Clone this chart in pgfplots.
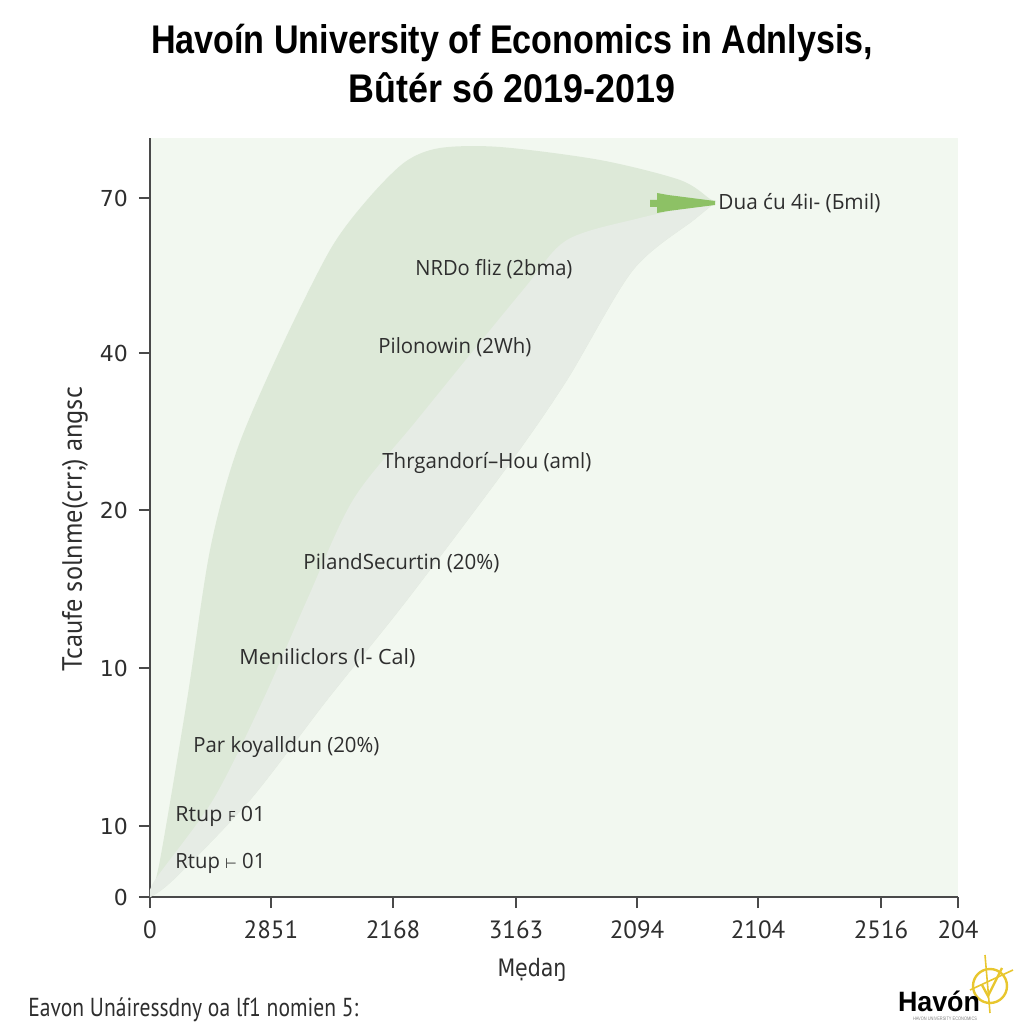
\documentclass[border=0pt]{standalone}
\usepackage{pgfplots}
\pgfplotsset{compat=1.18}
\usepackage{fontspec}
\usepackage{graphicx}
\setmainfont{Open Sans}
\newfontfamily\ptsans{PT Sans}
\newfontfamily\dejavu{DejaVu Sans}
\newfontfamily\libsans{Liberation Sans}
\definecolor{bgc}{HTML}{F2F8F0}
\definecolor{bandA}{HTML}{DDE9D8}
\definecolor{bandB}{HTML}{E6ECE5}
\definecolor{arrowc}{HTML}{8DC165}
\definecolor{axc}{HTML}{4A4A4A}
\definecolor{txt}{HTML}{2E2E2E}
\definecolor{logoy}{HTML}{E8C62E}
\newcommand\fitw[2]{\resizebox{#1}{\height}{#2}}
\begin{document}
\begin{tikzpicture}
\useasboundingbox (-75pt,-63.5pt) rectangle (437pt,448.5pt);
\begin{axis}[
  at={(0pt,0pt)}, anchor=south west,
  scale only axis, width=404pt, height=379.5pt,
  xmin=0, xmax=808, ymin=0, ymax=759,
  axis lines*=left,
  axis line style={axc, line width=0.9pt},
  axis background/.style={fill=bgc},
  tick align=outside, major tick length=5.5pt,
  tick style={axc, line width=0.8pt},
  xtick={0,121,243,366,487,608,731,808},
  xticklabels={0,2851,2168,3163,2094,2104,2516,204},
  ytick={0,71,229,387,544,699},
  yticklabels={0,10,10,20,40,70},
  xticklabel style={font=\ptsans\fontsize{12.5}{14}\selectfont, text=txt, yshift=-3pt},
  yticklabel style={font=\dejavu\fontsize{11}{13}\selectfont, text=txt, xshift=-2pt},
]
% outer (darker green) band
\addplot[fill=bandA, draw=none, smooth, tension=0.5] coordinates {
 (0,0) (10,37) (37,197) (60,347) (87,447) (130,547) (180,647) (217,697)
 (255,735) (290,749) (350,750) (450,737) (530,717) (560,698) (565,695)
 (545,678) (483,627) (417,517) (360,434) (257,297) (177,197) (100,97) (23,17) (0,0)};
% middle (lighter grey) band
\addplot[fill=bandB, draw=none, smooth, tension=0.5] coordinates {
 (0,0) (5,17) (63,97) (113,197) (157,297) (203,397) (267,477) (373,607) (417,657)
 (490,679) (560,694) (565,695)
 (545,678) (483,627) (417,517) (360,434) (257,297) (177,197) (100,97) (23,17) (0,0)};
% arrow
\addplot[fill=arrowc, draw=none] coordinates {
 (500,697) (507,697) (507,704) (518,702) (565,696) (565,692) (518,686) (507,684) (507,690) (500,690) (500,697)};
% labels
\begin{scope}[every node/.style={anchor=west, inner sep=0pt, text=txt, font=\fontsize{10.5}{12}\selectfont}]
\node at (axis cs:265,628) {\fitw{78.5pt}{NRDo fliz (2bma)}};
\node at (axis cs:228,550) {\fitw{76.5pt}{Pilonowin (2Wh)}};
\node at (axis cs:232,434) {\fitw{104.5pt}{Thrgandorí--Hou (aml)}};
\node at (axis cs:153,334) {\fitw{98pt}{PilandSecurtin (20\%)}};
\node at (axis cs:89,239) {\fitw{88pt}{Meniliclors (l- Cal)}};
\node at (axis cs:43,150) {\fitw{93pt}{Par koyalldun (20\%)}};
\node at (axis cs:25,81) {\fitw{45pt}{Rtup {\scriptsize F} 01}};
\node at (axis cs:25,34) {\fitw{45pt}{Rtup {\scriptsize\dejavu ⊢} 01}};
\node at (axis cs:568,694) {\fitw{81pt}{Dua ću 4iı- (Бmil)}};
\end{scope}
\end{axis}
% title
\node[text=black] at (181pt,427pt) {\libsans\bfseries\fontsize{20}{24}\selectfont\fitw{361pt}{Havoín University of Economics in Adnlysis,}};
\node[text=black] at (181pt,404.5pt) {\libsans\bfseries\fontsize{20}{24}\selectfont\fitw{163.5pt}{Bûtér só 2019-2019}};
% axis labels
\node[rotate=90, text=txt] at (-37.5pt,184pt) {\ptsans\fontsize{14}{16}\selectfont\fitw{142pt}{Tcaufe solnme(crr;) angsc}};
\node[text=txt] at (191pt,-36.5pt) {\dejavu\fontsize{12}{14}\selectfont\fitw{34.5pt}{Mẹdaŋ}};
% footer
\node[anchor=west, inner sep=0pt, text=txt] at (-61pt,-56.5pt) {\ptsans\fontsize{13}{15}\selectfont\fitw{165pt}{Eavon Unáiressdny oa lf1 nomien 5:}};
% logo
\draw[logoy, line width=1.2pt] (420pt,-44.5pt) circle (8.5pt);
\draw[logoy, line width=1.2pt] (416pt,-44pt) -- (419pt,-49.5pt) -- (426pt,-35.5pt);
\draw[logoy, line width=0.8pt] (417.5pt,-29pt) -- (420pt,-58pt);
\draw[logoy, line width=0.8pt] (410pt,-46.5pt) -- (431.5pt,-36.5pt);
\node[text=black, inner sep=0pt] at (394.5pt,-52pt) {\libsans\bfseries\fontsize{14}{16}\selectfont\fitw{41pt}{Havón}};
\node[text=gray, inner sep=0pt] at (397.5pt,-61pt) {\libsans\fontsize{2.5}{3}\selectfont\fitw{32pt}{HAVON UNIVERSITY ECONOMICS}};
\end{tikzpicture}
\end{document}
